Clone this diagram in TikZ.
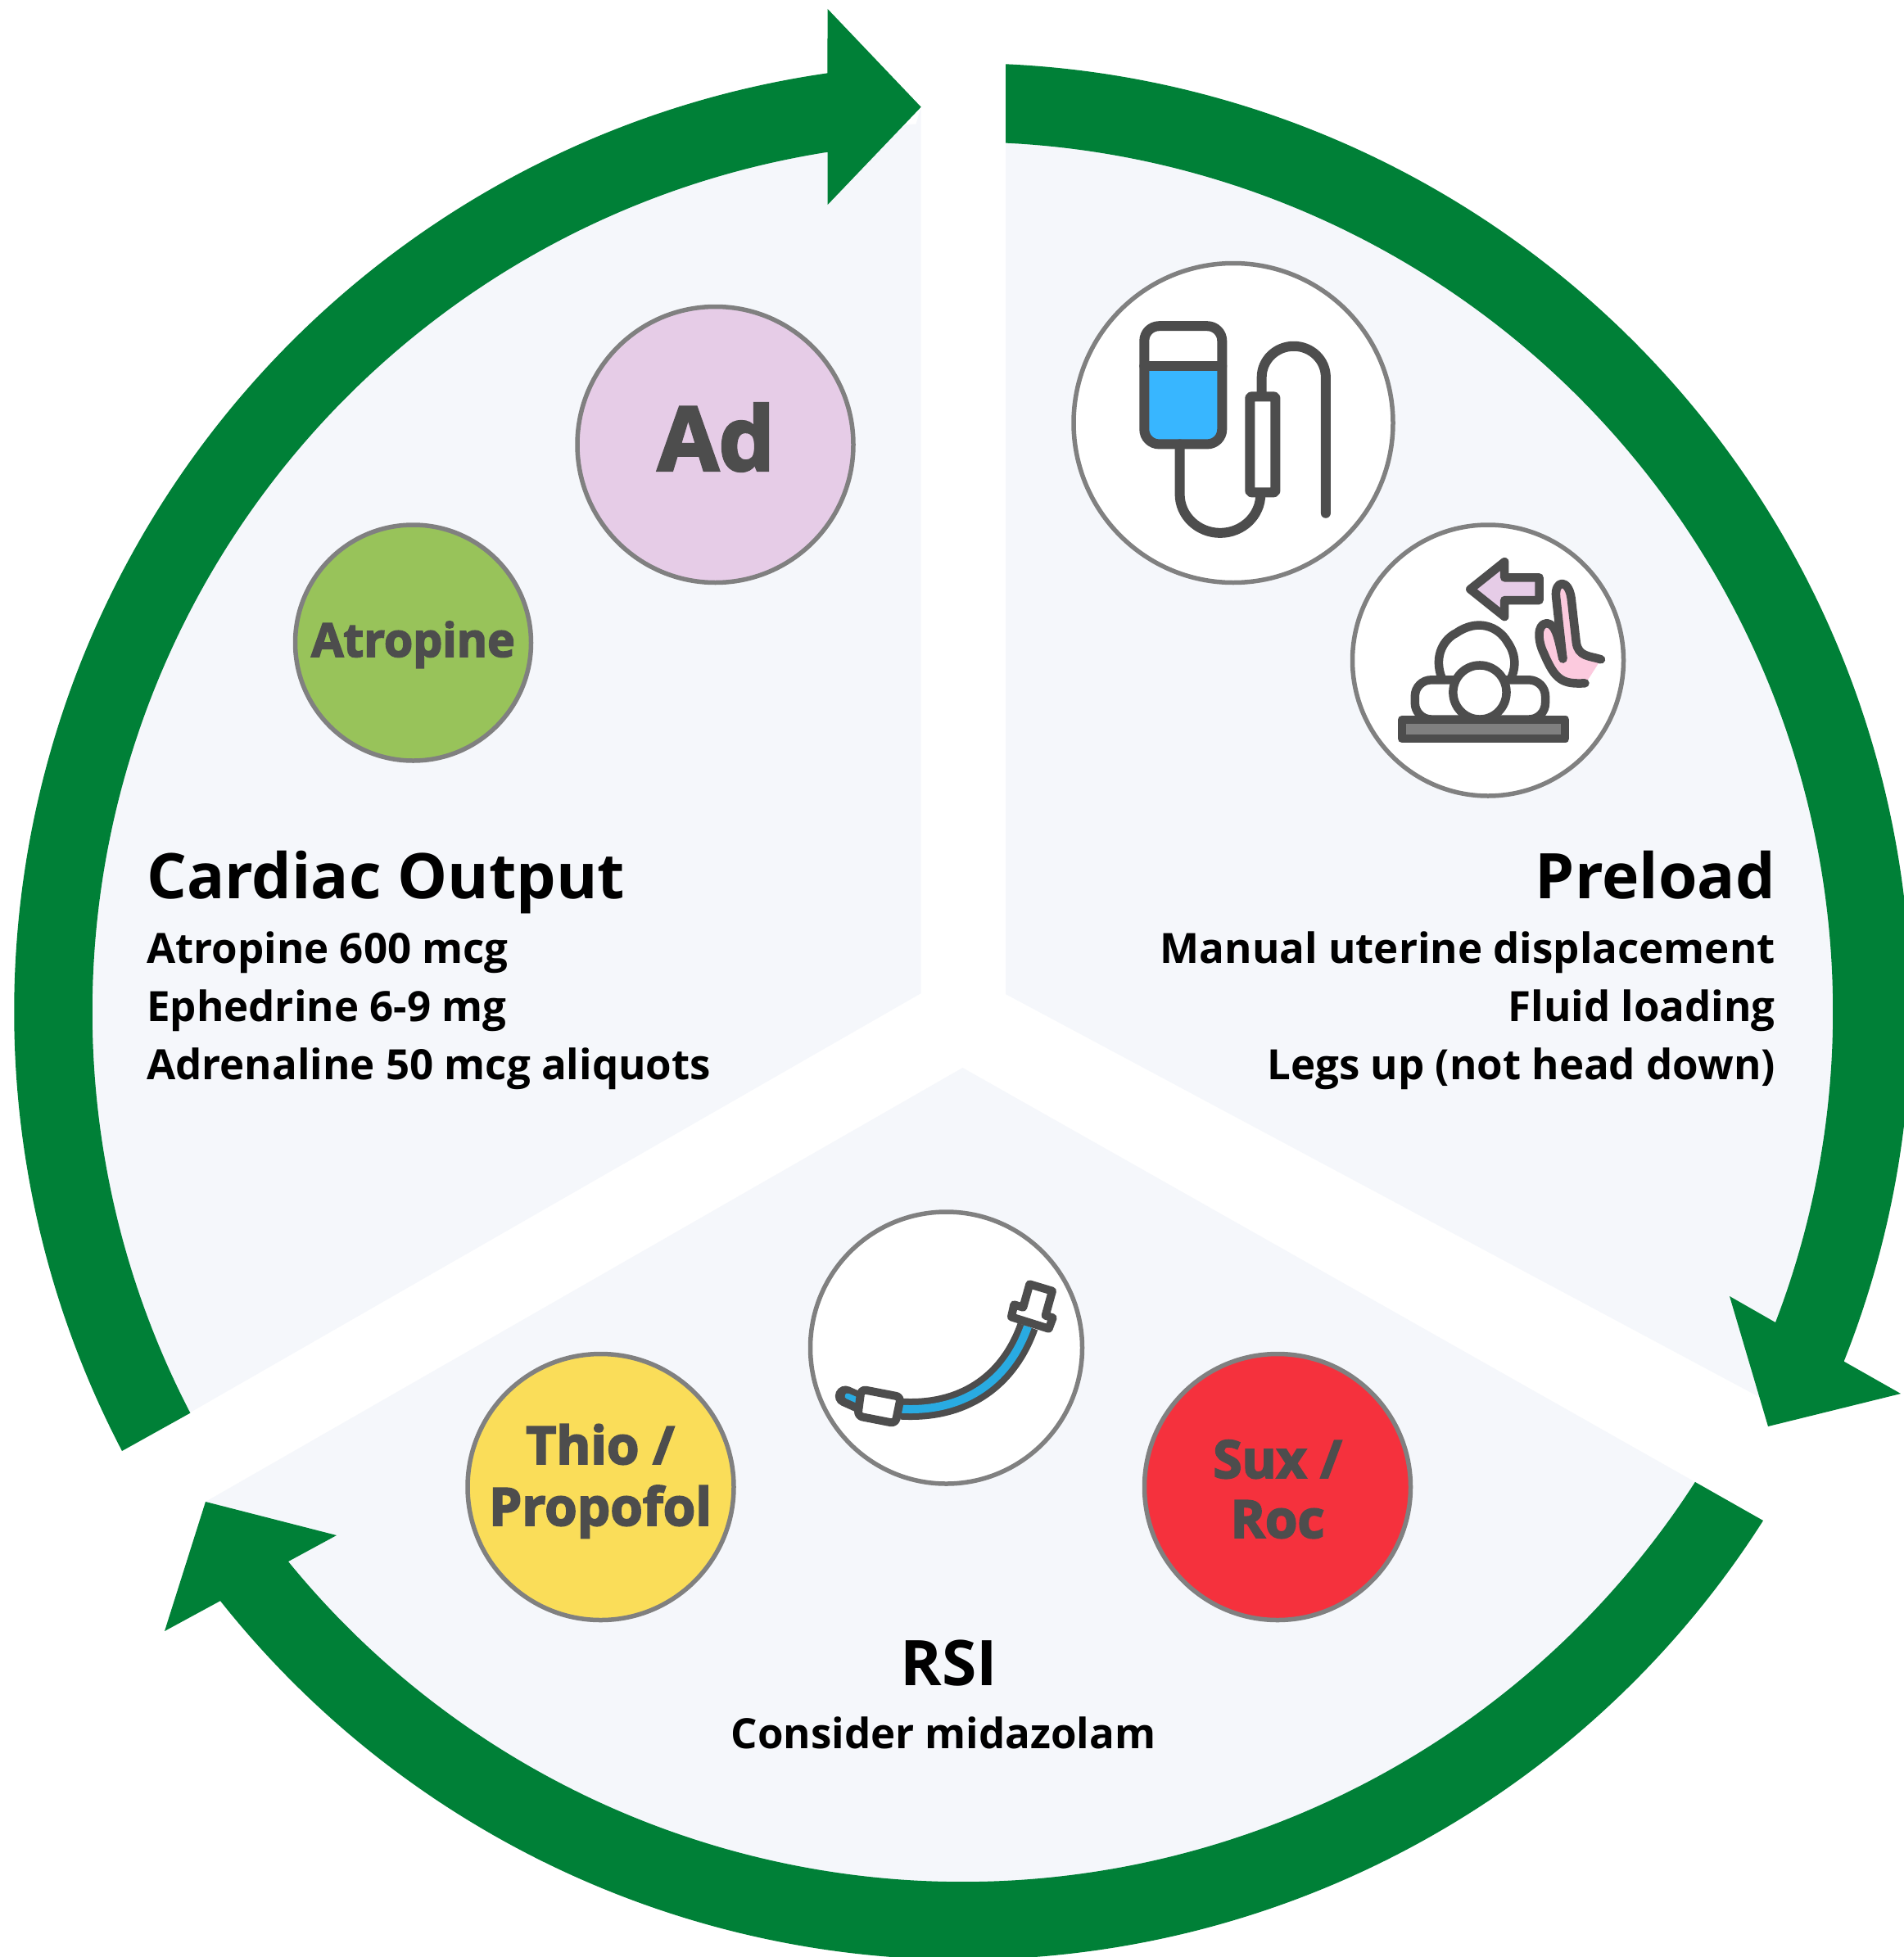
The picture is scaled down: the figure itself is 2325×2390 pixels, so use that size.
\documentclass[tikz,border=0pt]{standalone}
\usepackage{fontspec}
\setmainfont{Open Sans}
\newfontfamily\xbold{Open Sans}[BoldFeatures={FakeBold=3}]
\definecolor{ringgreen}{HTML}{008037}
\definecolor{sectorbg}{HTML}{F5F7FB}
\definecolor{icondark}{HTML}{4D4D4D}
\definecolor{rimgray}{HTML}{808080}
\definecolor{lilac}{HTML}{E6CCE7}
\definecolor{leaf}{HTML}{98C35A}
\definecolor{sunny}{HTML}{FADD59}
\definecolor{alarm}{HTML}{F5313D}
\definecolor{dripblue}{HTML}{38B6FF}
\definecolor{tubeblue}{HTML}{29ABE2}
\definecolor{legpink}{HTML}{FCCADE}
\tikzset{
  x=1pt,y=-1pt,
  band/.style={fill=ringgreen,draw=none},
  sector/.style={fill=sectorbg,draw=none},
  disc/.style={circle,draw=rimgray,line width=5.5pt,inner sep=0pt},
  heading/.style={inner sep=0pt,font=\fontsize{76.8}{76.8}\selectfont\bfseries,text=black},
  body/.style={inner sep=0pt,font=\fontsize{51}{51}\selectfont\bfseries,text=black},
  disctext/.style={inner sep=0pt,anchor=base,text=icondark,font=\fontsize{64}{64}\selectfont\xbold\bfseries},
  ink/.style={draw=icondark,line width=#1,line join=round,line cap=round},
  ink/.default=12pt,
}
\begin{document}
\begin{tikzpicture}
\useasboundingbox (0,0) rectangle (2325,2390);
\clip (0,0) rectangle (2325,2390);
\fill[white] (0,0) rectangle (2325,2390);
% sectors
\path[sector] (1228,100) arc[start angle=-87.33,end angle=27.3,radius=1106] -- (1228,1214) -- cycle;
\path[sector] (251,1834) arc[start angle=147,end angle=33,radius=1101] -- (2070,1810) -- (1175.5,1304) -- cycle;
\path[sector] (1124.7,130.7) -- (1124.7,1213) -- (213,1736) arc[start angle=152.5,end angle=267,radius=1085] -- cycle;
% ring arrows
\path[band] (1228,78.3) arc[start angle=-87.4,end angle=21.67,radius=1158] -- (2321,1702) -- (2159,1742) -- (2112,1583) -- (2168,1615)
   arc[start angle=20.95,end angle=-87.2,radius=1062] -- cycle;
\path[band] (2153,1857) arc[start angle=32.47,end angle=141.57,radius=1158] -- (201,1992) -- (251,1834) -- (411,1875) -- (352,1907)
   arc[start angle=140.8,end angle=32.73,radius=1063] -- cycle;
\path[band] (149,1772) arc[start angle=152.4,end angle=261.81,radius=1158] -- (1010.7,11) -- (1124.7,130.7) -- (1010.7,250) -- (1010.7,185.7)
   arc[start angle=261.07,end angle=152.56,radius=1063] -- cycle;
% discs
\node[disc,fill=lilac,minimum size=337pt] (adDisc) at (873.5,543) {};
\node[disc,fill=leaf,minimum size=288pt] (atDisc) at (504.5,785) {};
\node[disc,fill=white,minimum size=390pt] (dripDisc) at (1506,516.5) {};
\node[disc,fill=white,minimum size=331pt] (legDisc) at (1817,806.5) {};
\node[disc,fill=white,minimum size=332pt] (tubeDisc) at (1155.5,1646) {};
\node[disc,fill=sunny,minimum size=325pt] (thioDisc) at (733.5,1816) {};
\node[disc,fill=alarm,minimum size=325pt] (suxDisc) at (1560,1816) {};
% disc labels
\node[disctext,font=\fontsize{108}{108}\selectfont\xbold\bfseries] (adT) at (874.5,574.5) {Ad};
\node[disctext,font=\fontsize{57}{57}\selectfont\xbold\bfseries] (atT) at (504.5,802) {Atropine};
\node[disctext] (thT) at (733,1788) {Thio /};
\node[disctext] (prT) at (733,1863) {Propofol};
\node[disctext] (suT) at (1560,1805) {Sux /};
\node[disctext] (roT) at (1560,1878) {Roc};
% left text
\node[heading,anchor=base west] (coH) at (179,1097) {Cardiac Output};
\node[body,anchor=base west] (co1) at (179,1176) {Atropine 600 mcg};
\node[body,anchor=base west] (co2) at (179,1247) {Ephedrine 6-9 mg};
\node[body,anchor=base west] (co3) at (179,1318) {Adrenaline 50 mcg aliquots};
% right text
\node[heading,anchor=base east] (plH) at (2168,1097) {Preload};
\node[body,anchor=base east] (pl1) at (2168,1176) {Manual uterine displacement};
\node[body,anchor=base east] (pl2) at (2168,1247) {Fluid loading};
\node[body,anchor=base east] (pl3) at (2168,1318) {Legs up (not head down)};
% bottom text
\node[heading,anchor=base] (rsH) at (1159,2058) {RSI};
\node[body,anchor=base] (rs1) at (1152,2135) {Consider midazolam};
% drip and leg icons
\begin{scope}[shift={(1280,300)},xscale=0.4655,yscale=0.4464]
  % bag
  \fill[dripblue] (252,330) -- (456,330) -- (456,503) arc[start angle=0,end angle=90,x radius=40,y radius=40] -- (292,543) arc[start angle=90,end angle=180,x radius=40,y radius=40] -- cycle;
  \draw[ink,rounded corners=18pt] (252,220) rectangle (456,543);
  \draw[ink] (252,330) -- (456,330);
  % line
  \draw[ink] (345,543) -- (345,680) arc[start angle=180,end angle=0,x radius=106,y radius=106];
  \draw[ink] (560,412) -- (560,360) arc[start angle=180,end angle=360,x radius=84,y radius=85] -- (728,732);
  \filldraw[ink,fill=white,rounded corners=2pt] (529,413) rectangle (596,675);
  % leg arrow
  \filldraw[ink=10.5pt,fill=lilac] (1107,940) -- (1197,865) -- (1197,908) -- (1288,908) -- (1288,970) -- (1197,970) -- (1197,1015) -- cycle;
  % foot
  \fill[legpink] (1335,950) .. controls (1335,925) and (1355,920) .. (1362,950) -- (1385,1090) .. controls (1390,1120) and (1420,1125) .. (1450,1132) -- (1410,1197) .. controls (1340,1190) and (1290,1130) .. (1290,1060) .. controls (1295,1030) and (1325,1030) .. (1335,1060) -- cycle;
  \draw[ink=10.5pt] (1350,1130) -- (1332,960) .. controls (1328,915) and (1365,910) .. (1372,965) -- (1385,1085) .. controls (1390,1125) and (1420,1122) .. (1450,1132);
  \draw[ink=10.5pt] (1350,1130) .. controls (1340,1090) and (1335,1035) .. (1308,1033) .. controls (1280,1035) and (1285,1085) .. (1300,1115) .. controls (1330,1190) and (1350,1200) .. (1408,1197);
  % body
  \draw[ink=10.5pt,fill=white] (1032,1182) .. controls (1010,1120) and (1040,1075) .. (1070,1060) .. controls (1125,1020) and (1180,1040) .. (1205,1085) .. controls (1225,1115) and (1230,1150) .. (1212,1188);
  \filldraw[ink=10.5pt,fill=white,rounded corners=20pt] (962,1188) rectangle (1304,1296);
  \filldraw[ink=10.5pt,fill=white] (1132,1222) circle[x radius=70,y radius=74];
  % table
  \filldraw[ink=10.5pt,fill=rimgray] (928,1297) rectangle (1356,1349);
\end{scope}
% tube icon
\begin{scope}[shift={(960,1460)},scale=0.3333]
  \draw[icondark,line width=26pt] (420,782) .. controls (640,795) and (810,690) .. (885,480);
  \draw[tubeblue,line width=10pt] (420,782) .. controls (640,795) and (810,690) .. (885,480);
  \draw[icondark,line width=25pt,line cap=round] (217,735) -- (290,768);
  \draw[tubeblue,line width=7pt,line cap=round] (225,735) -- (275,757);
  \filldraw[ink=10pt,fill=white,rounded corners=6pt] (275,710) -- (420,738) -- (400,835) -- (262,808) -- cycle;
  \filldraw[ink=10pt,fill=white] (892,325) -- (975,350) -- (950,440) -- (977,448) -- (962,488) -- (825,445) -- (835,400) -- (868,410) -- cycle;
  \draw[icondark,line width=3pt] (840,443) -- (955,478);
\end{scope}
\end{tikzpicture}
\end{document}
